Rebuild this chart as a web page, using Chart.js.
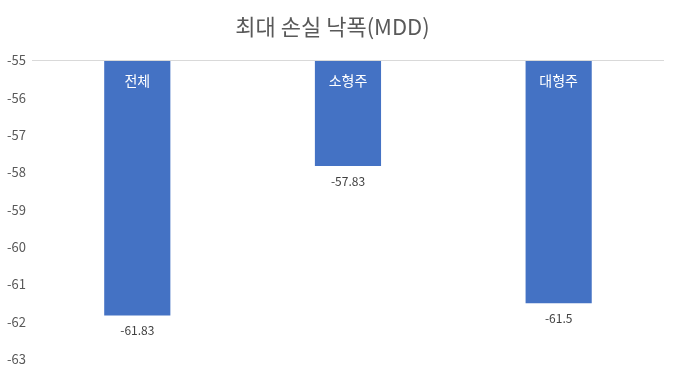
<!DOCTYPE html>
<html>
<head>
<meta charset="utf-8">
<script src="https://cdn.jsdelivr.net/npm/chart.js@4"></script>
<style>
  html, body { margin: 0; padding: 0; background: #fff; }
  #wrap { width: 674px; height: 373px; }
</style>
</head>
<body>
<div id="wrap"><canvas id="chart"></canvas></div>
<script>
const categories = ['전체', '소형주', '대형주'];
const mddValues = [-61.83, -57.83, -61.5];
const valueLabels = ['-61.83', '-57.83', '-61.5'];
const yMin = -63;
const yMax = -55;

const FONT = '"Noto Sans CJK KR", "Noto Sans", sans-serif';

// category name inside the top of the bar, value under the bar end
const barLabels = {
  id: 'barLabels',
  afterDatasetsDraw(chart) {
    const ctx = chart.ctx;
    const meta = chart.getDatasetMeta(0);
    ctx.save();
    ctx.textAlign = 'center';
    ctx.textBaseline = 'middle';
    meta.data.forEach((bar, i) => {
      ctx.font = '14px ' + FONT;
      ctx.fillStyle = '#ffffff';
      ctx.fillText(categories[i], bar.x, bar.base + 20);
      ctx.font = '12px ' + FONT;
      ctx.fillStyle = '#404040';
      ctx.fillText(valueLabels[i], bar.x, bar.y + 15);
    });
    ctx.restore();
  }
};

new Chart(document.getElementById('chart'), {
  type: 'bar',
  data: {
    labels: categories,
    datasets: [{
      data: mddValues,
      base: yMax,
      backgroundColor: '#4472c4',
      barPercentage: 1,
      categoryPercentage: 0.314,
    }],
  },
  options: {
    responsive: true,
    maintainAspectRatio: false,
    animation: false,
    layout: { padding: { left: 1, right: 10, bottom: 8 } },
    plugins: {
      legend: { display: false },
      tooltip: { enabled: false },
      title: {
        display: true,
        text: '최대 손실 낙폭(MDD)',
        color: '#595959',
        font: { family: FONT, size: 22, weight: 'normal' },
        padding: { top: 13, bottom: 21 },
      },
    },
    scales: {
      x: { display: false },
      y: {
        min: yMin,
        max: yMax,
        ticks: {
          stepSize: 1,
          color: '#595959',
          font: { family: FONT, size: 13 },
          padding: 6,
        },
        grid: {
          drawTicks: false,
          color: (c) => (c.tick && c.tick.value === yMax ? '#d9d9d9' : 'rgba(0,0,0,0)'),
        },
        border: { display: false },
      },
    },
  },
  plugins: [barLabels],
});
</script>
</body>
</html>
